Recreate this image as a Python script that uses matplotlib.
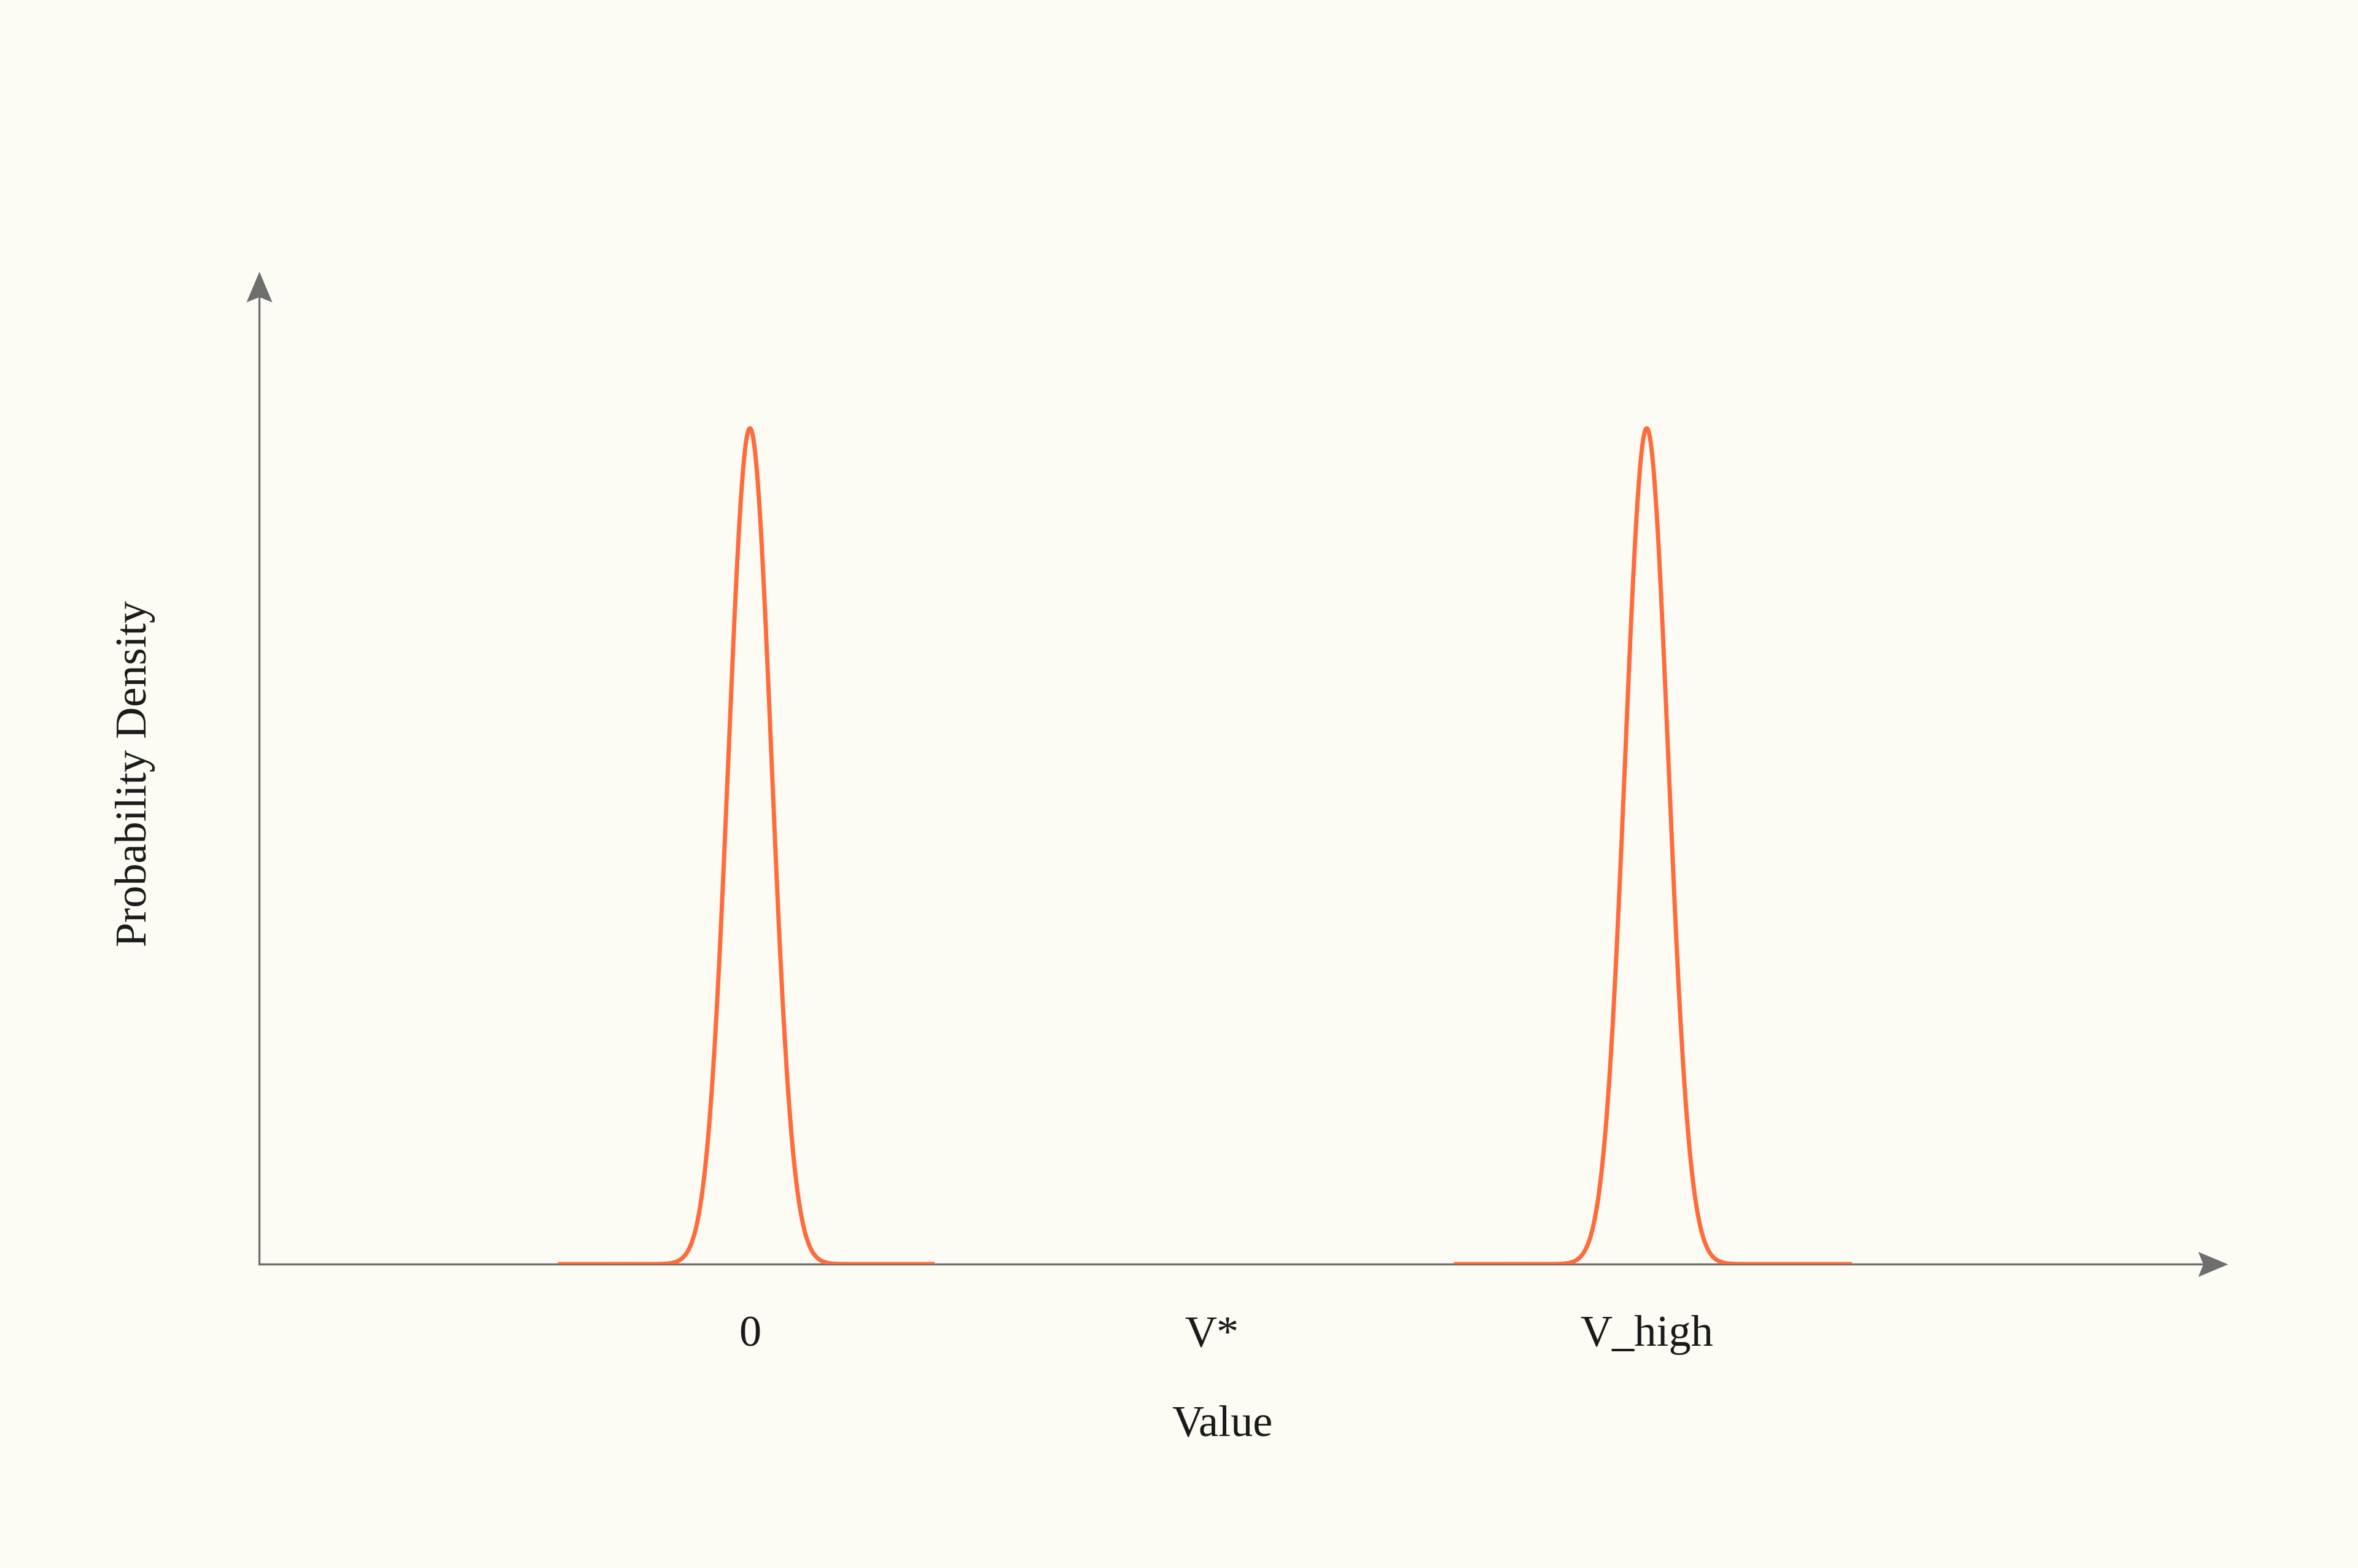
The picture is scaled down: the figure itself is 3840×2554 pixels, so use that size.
"""Bimodal value density sketch."""
import matplotlib.pyplot as plt
import numpy as np
from matplotlib.path import Path

BG = "#fcfbf4"
LINE = "#ff6b3b"
AXIS = "#6e6e6e"
INK = "#1a1a1a"

# peaks: centre, spread and the span each curve is drawn over
peak_centres = [0.0, 10.0]
peak_sigma = 0.24
peak_spans = [(-2.14, 2.06), (7.85, 12.29)]

tick_values = [0.0, 5.15, 10.0]
tick_labels = ["0", "V*", "V_high"]

x_limits = (-5.47, 16.48)

plt.rcParams["font.family"] = ["Liberation Serif", "DejaVu Serif"]

fig = plt.figure(figsize=(19.2, 12.77), dpi=200, facecolor=BG)
ax = fig.add_axes([0.110, 0.1938, 0.8348, 0.6331], facecolor=BG)

for centre, (lo, hi) in zip(peak_centres, peak_spans):
    x = np.linspace(lo, hi, 600)
    y = np.exp(-0.5 * ((x - centre) / peak_sigma) ** 2) / (peak_sigma * np.sqrt(2 * np.pi))
    ax.plot(x, y, color=LINE, lw=2.5, solid_capstyle="butt", zorder=3)

peak = 1 / (peak_sigma * np.sqrt(2 * np.pi))
ax.set_xlim(*x_limits)
ax.set_ylim(0, peak / 0.842)

for side in ax.spines.values():
    side.set_visible(False)
ax.set_yticks([])
ax.set_xticks(tick_values, tick_labels)
ax.tick_params(axis="x", length=0, pad=30, labelsize=26, labelcolor=INK)

# axis lines with stealth-style arrow heads
head_right = Path([(0, 0), (-1, 0.42), (-0.83, 0), (-1, -0.42), (0, 0)],
                  [Path.MOVETO, Path.LINETO, Path.LINETO, Path.LINETO, Path.CLOSEPOLY])
head_up = Path([(0, 0), (0.42, -1), (0, -0.83), (-0.42, -1), (0, 0)],
               [Path.MOVETO, Path.LINETO, Path.LINETO, Path.LINETO, Path.CLOSEPOLY])
ax.plot([0, 0.995], [0, 0], transform=ax.transAxes, color=AXIS, lw=1.2,
        clip_on=False, zorder=2)
ax.plot([0, 0], [0, 0.99], transform=ax.transAxes, color=AXIS, lw=1.2,
        clip_on=False, zorder=2)
ax.plot([1], [0], transform=ax.transAxes, marker=head_right, markersize=35,
        color=AXIS, markeredgewidth=0, clip_on=False, zorder=2)
ax.plot([0], [1], transform=ax.transAxes, marker=head_up, markersize=36,
        color=AXIS, markeredgewidth=0, clip_on=False, zorder=2)

ax.text(0.489, -0.162, "Value", transform=ax.transAxes, ha="center", va="center",
        fontsize=26, color=INK)
ax.text(-0.063, 0.494, "Probability Density", transform=ax.transAxes, ha="center",
        va="center", rotation=90, fontsize=26, color=INK)

fig.savefig("out.png", dpi=200, facecolor=BG)
